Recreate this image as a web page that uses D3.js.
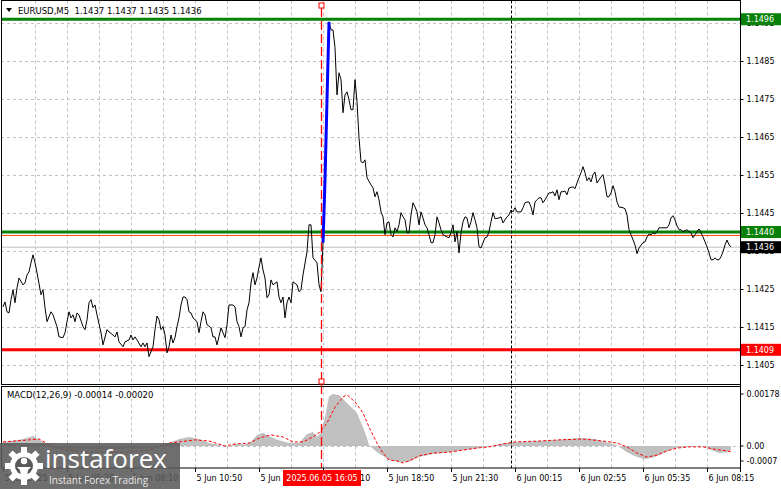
<!DOCTYPE html>
<html><head><meta charset="utf-8">
<script src="https://cdn.jsdelivr.net/npm/d3@7"></script>
<style>html,body{margin:0;padding:0;background:#fff;}svg{display:block;}</style>
</head><body>
<svg id="c" width="781" height="489"></svg>
<script>
// ---------- data ----------
const symbolTitle = "EURUSD,M5  1.1437 1.1437 1.1435 1.1436";
const macdTitle = "MACD(12,26,9) -0.00014 -0.00020";
const priceTicks = [1.1405,1.1415,1.1425,1.1435,1.1445,1.1455,1.1465,1.1475,1.1485,1.1495];
const macdTicks = [0.00178, 0, -0.0007];
const macdTickLabels = ["0.00178","0.00","-0.0007"];
const timeBars = [0,32,64,96,128,160,192,224,256,288,320,352];
const timeLabels = ["5 Jun 2025","5 Jun 05:30","5 Jun 08:10","5 Jun 10:50","5 Jun 13:30","5 Jun 16:10","5 Jun 18:50","5 Jun 21:30","6 Jun 00:15","6 Jun 02:55","6 Jun 05:35","6 Jun 08:15"];
const gridBars = [16,32,48,64,80,96,112,128,144,160,176,192,208,224,240,256,272,288,304,320,336,352];
const cursorBar = 159, cursorLabel = "2025.06.05 16:05";
const daySeparatorBar = 254;
const levelPrices = [1.1496, 1.1440, 1.1409];
const levelLabels = ["1.1496","1.1440","1.1409"];
const extraLinePrice = 1.14391;
const bidPrice = 1.1436, bidLabel = "1.1436";
const highlightBars = [160, 163];

// [bar, close]
const pricePoints = [[0,1.14203],[1,1.14216],[2,1.14190],[3,1.14187],[4,1.14222],[5,1.14248],[6,1.14214],[7,1.14253],[8,1.14279],[10,1.14261],[11,1.14266],[12,1.14287],[13,1.14295],[14,1.14319],[15,1.14340],[16,1.14319],[17,1.14293],[19,1.14235],[20,1.14248],[21,1.14201],[22,1.14164],[24,1.14190],[25,1.14182],[27,1.14151],[28,1.14124],[30,1.14122],[31,1.14135],[32,1.14164],[33,1.14190],[34,1.14174],[35,1.14182],[36,1.14164],[37,1.14187],[38,1.14182],[40,1.14151],[41,1.14143],[42,1.14169],[43,1.14214],[44,1.14222],[45,1.14201],[46,1.14208],[47,1.14182],[49,1.14135],[50,1.14103],[52,1.14143],[53,1.14137],[55,1.14129],[56,1.14124],[57,1.14137],[58,1.14111],[60,1.14098],[61,1.14111],[63,1.14116],[64,1.14129],[65,1.14116],[66,1.14124],[67,1.14116],[69,1.14098],[70,1.14108],[71,1.14098],[72,1.14108],[73,1.14072],[75,1.14098],[76,1.14143],[77,1.14179],[78,1.14169],[79,1.14143],[80,1.14151],[81,1.14129],[82,1.14082],[83,1.14098],[84,1.14129],[85,1.14108],[86,1.14122],[87,1.14151],[88,1.14174],[89,1.14208],[90,1.14229],[91,1.14229],[92,1.14222],[93,1.14190],[94,1.14187],[95,1.14174],[97,1.14164],[98,1.14135],[99,1.14164],[100,1.14190],[101,1.14182],[102,1.14156],[104,1.14148],[105,1.14124],[106,1.14124],[107,1.14103],[109,1.14148],[110,1.14135],[111,1.14122],[112,1.14156],[113,1.14208],[115,1.14208],[116,1.14203],[117,1.14164],[118,1.14151],[119,1.14124],[120,1.14148],[121,1.14151],[122,1.14195],[123,1.14214],[124,1.14266],[125,1.14293],[126,1.14261],[127,1.14279],[128,1.14308],[129,1.14332],[130,1.14300],[131,1.14279],[132,1.14227],[133,1.14235],[134,1.14274],[135,1.14261],[137,1.14269],[138,1.14229],[139,1.14214],[140,1.14229],[141,1.14174],[142,1.14214],[143,1.14229],[144,1.14214],[145,1.14269],[147,1.14261],[148,1.14243],[149,1.14248],[150,1.14287],[152,1.14348],[153,1.14419],[154,1.14419],[155,1.14332],[157,1.14319],[158,1.14261],[159,1.14243],[160,1.14372],[161,1.14537],[162,1.14748],[163,1.14953],
[164,1.14932],[165,1.14932],[166,1.14885],[167,1.14761],[168,1.14819],[169,1.14801],[170,1.14714],[171,1.14761],[172,1.14769],[173,1.14748],[174,1.14722],[175,1.14722],[176,1.14801],[177,1.14743],[178,1.14648],[179,1.14585],[180,1.14582],[181,1.14590],[182,1.14543],[184,1.14524],[185,1.14516],[186,1.14493],[187,1.14506],[188,1.14485],[189,1.14453],[190,1.14440],[191,1.14393],[192,1.14424],[193,1.14427],[194,1.14393],[195,1.14387],[196,1.14411],[197,1.14401],[198,1.14419],[199,1.14451],[200,1.14440],[201,1.14432],[202,1.14398],[203,1.14398],[204,1.14445],[205,1.14477],[206,1.14466],[207,1.14453],[208,1.14419],[209,1.14453],[210,1.14437],[211,1.14419],[212,1.14411],[213,1.14393],[214,1.14372],[215,1.14372],[216,1.14393],[217,1.14440],[218,1.14424],[219,1.14406],[220,1.14393],[222,1.14387],[223,1.14385],[224,1.14398],[225,1.14419],[226,1.14374],[227,1.14401],[228,1.14345],[229,1.14398],[230,1.14427],[231,1.14440],[232,1.14437],[233,1.14411],[234,1.14427],[235,1.14451],[236,1.14432],[237,1.14411],[238,1.14361],[239,1.14358],[240,1.14372],[241,1.14385],[242,1.14387],[243,1.14401],[244,1.14427],[245,1.14451],[246,1.14435],[248,1.14437],[249,1.14440],[250,1.14424],[252,1.14440],[253,1.14445],[254,1.14458],[255,1.14453],[256,1.14464],[257,1.14453],[259,1.14453],[260,1.14464],[261,1.14477],[262,1.14479],[263,1.14479],[264,1.14466],[265,1.14445],[266,1.14479],[267,1.14485],[268,1.14490],[269,1.14490],[270,1.14477],[271,1.14485],[273,1.14503],[274,1.14503],[275,1.14506],[276,1.14495],[277,1.14511],[278,1.14485],[279,1.14506],[280,1.14506],[281,1.14508],[282,1.14498],[283,1.14516],[285,1.14519],[286,1.14514],[287,1.14529],[288,1.14543],[289,1.14556],[290,1.14572],[291,1.14556],[292,1.14535],[293,1.14543],[294,1.14532],[295,1.14551],[296,1.14558],[297,1.14529],[298,1.14537],[299,1.14545],[300,1.14551],[301,1.14524],[302,1.14493],[303,1.14493],[304,1.14503],[305,1.14522],[306,1.14506],[307,1.14479],[308,1.14466],[310,1.14464],[311,1.14461],[312,1.14445],[313,1.14406],[314,1.14393],[316,1.14366],[317,1.14343],[318,1.14358],[320,1.14372],[321,1.14374],[322,1.14387],[323,1.14395],[324,1.14393],[325,1.14398],[326,1.14395],[327,1.14401],[328,1.14411],[329,1.14411],[330,1.14411],[332,1.14411],[333,1.14419],[334,1.14437],[335,1.14443],[336,1.14432],[337,1.14416],[338,1.14406],[339,1.14406],[340,1.14401],[341,1.14403],[342,1.14406],[343,1.14401],[344,1.14398],[345,1.14385],[346,1.14393],[347,1.14401],[348,1.14408],[349,1.14398],[350,1.14387],[351,1.14374],[352,1.14361],[353,1.14345],[354,1.14327],[355,1.14327],[356,1.14332],[357,1.14327],[358,1.14327],[359,1.14335],[360,1.14348],[361,1.14366],[362,1.14379],[363,1.14366],[364,1.14361]];

// [bar, value]
const macdHist = [[0,0.00014],[4,0.00017],[10,0.00024],[15,0.00034],[20,0.00014],[26,-0.00005],[33,-0.00012],[43,-0.00010],[53,-0.00014],[63,-0.00008],[73,-0.00010],[81,0.00005],[88,0.00024],[93,0.00031],[98,0.00024],[103,0.00010],[109,0.00003],[112,-0.00003],[116,0.00007],[121,0.00005],[124,0.00014],[127,0.00038],[130,0.00045],[133,0.00034],[137,0.00021],[143,0.00010],[148,0.00010],[152,0.00040],[155,0.00048],[157,0.00031],[159,0.00045],[161,0.00099],[163,0.00170],[165,0.00178],[168,0.00175],[173,0.00140],[177,0.00113],[180,0.00065],[182,0.00027],[183,0.00003],[187,-0.00021],[190,-0.00034],[193,-0.00048],[198,-0.00055],[203,-0.00055],[208,-0.00038],[215,-0.00027],[223,-0.00021],[231,-0.00014],[238,-0.00007],[246,0.00003],[251,0.00010],[258,0.00014],[268,0.00017],[278,0.00021],[288,0.00027],[296,0.00024],[301,0.00014],[307,0.00003],[312,-0.00021],[317,-0.00038],[321,-0.00045],[326,-0.00038],[331,-0.00021],[336,-0.00007],[341,-0.00003],[348,0.00000],[352,-0.00003],[354,-0.00014],[358,-0.00024],[362,-0.00021],[364,-0.00014]];
const macdSignal = [[0,0.00014],[6,0.00017],[13,0.00021],[18,0.00024],[25,-0.00003],[32,-0.00014],[43,-0.00021],[63,-0.00021],[73,-0.00014],[83,0.00010],[88,0.00014],[96,0.00021],[103,0.00017],[111,0.00000],[116,0.00007],[123,0.00010],[128,0.00027],[134,0.00038],[140,0.00031],[145,0.00014],[150,0.00014],[155,0.00031],[158,0.00045],[162,0.00079],[166,0.00133],[170,0.00168],[172,0.00175],[176,0.00151],[180,0.00113],[183,0.00065],[187,0.00010],[190,-0.00024],[193,-0.00048],[197,-0.00051],[200,-0.00058],[203,-0.00051],[208,-0.00034],[215,-0.00024],[223,-0.00021],[230,-0.00014],[237,-0.00007],[243,-0.00003],[250,0.00007],[256,0.00014],[268,0.00017],[278,0.00021],[290,0.00024],[300,0.00017],[307,0.00010],[312,-0.00003],[317,-0.00024],[322,-0.00038],[327,-0.00031],[332,-0.00017],[337,-0.00007],[343,-0.00003],[350,-0.00003],[355,-0.00010],[362,-0.00017],[364,-0.00020]];

// ---------- layout ----------
const FONT = "DejaVu Sans";
const L = 1, R = 740.5, mainTop = 0.5, mainBot = 384.5, macdTop = 386.5, macdBot = 468;
const svg = d3.select("#c");
svg.append("rect").attr("width",781).attr("height",489).attr("fill","#fff");

const x = d3.scaleLinear().domain([0, 368.5]).range([3, 740]);
const y = d3.scaleLinear().domain([1.1400, 1.15008]).range([384, 1]);
const my = d3.scaleLinear().domain([-0.000753, 0.00202]).range([468, 387]);

const defs = svg.append("defs");
defs.append("clipPath").attr("id","cm").append("rect").attr("x",L).attr("y",mainTop).attr("width",R-L).attr("height",mainBot-mainTop);
defs.append("clipPath").attr("id","cd").append("rect").attr("x",L).attr("y",macdTop).attr("width",R-L).attr("height",macdBot-macdTop);

const gridColor = "#c0c0c0";
// grid main
const gMain = svg.append("g").attr("clip-path","url(#cm)");
gMain.selectAll("line.hg").data(priceTicks).join("line")
  .attr("x1",L).attr("x2",R).attr("y1",d=>Math.round(y(d))+0.5).attr("y2",d=>Math.round(y(d))+0.5)
  .attr("stroke",gridColor).attr("stroke-dasharray","3,3");
gMain.selectAll("line.vg").data(gridBars).join("line")
  .attr("x1",d=>Math.round(x(d))+0.5).attr("x2",d=>Math.round(x(d))+0.5).attr("y1",mainTop).attr("y2",mainBot)
  .attr("stroke",gridColor).attr("stroke-dasharray","3,3");
// grid macd
const gMacd = svg.append("g").attr("clip-path","url(#cd)");
gMacd.selectAll("line.vg").data(gridBars).join("line")
  .attr("x1",d=>Math.round(x(d))+0.5).attr("x2",d=>Math.round(x(d))+0.5).attr("y1",macdTop).attr("y2",macdBot)
  .attr("stroke",gridColor).attr("stroke-dasharray","3,3");
gMacd.append("line").attr("x1",L).attr("x2",R).attr("y1",Math.round(my(0))+0.5).attr("y2",Math.round(my(0))+0.5)
  .attr("stroke",gridColor).attr("stroke-dasharray","3,3");

// level lines
const levelColors = ["#078107","#078107","#ff0000"];
gMain.append("line").attr("x1",L).attr("x2",R).attr("y1",y(bidPrice)).attr("y2",y(bidPrice)).attr("stroke","#c0c0c0").attr("stroke-width",1);
gMain.append("line").attr("x1",L).attr("x2",R).attr("y1",y(extraLinePrice)).attr("y2",y(extraLinePrice)).attr("stroke","#ff4500").attr("stroke-width",1);
gMain.selectAll("line.lvl").data(levelPrices).join("line")
  .attr("x1",L).attr("x2",R).attr("y1",d=>y(d)).attr("y2",d=>y(d))
  .attr("stroke",(d,i)=>levelColors[i]).attr("stroke-width",3);

// price line
const line = d3.line().x(d=>x(d[0])).y(d=>y(d[1]));
gMain.append("path").datum(pricePoints).attr("d",line).attr("fill","none").attr("stroke","#000").attr("stroke-width",1);
gMain.append("path").datum(pricePoints.filter(d=>d[0]>=highlightBars[0]&&d[0]<=highlightBars[1]))
  .attr("d",line).attr("fill","none").attr("stroke","#0000ff").attr("stroke-width",3);

// macd
const area = d3.area().x(d=>x(d[0])).y0(my(0)).y1(d=>my(d[1]));
gMacd.append("path").datum(macdHist).attr("d",area).attr("fill","#c0c0c0");
const sline = d3.line().x(d=>x(d[0])).y(d=>my(d[1]));
gMacd.append("path").datum(macdSignal).attr("d",sline).attr("fill","none").attr("stroke","#ff0000").attr("stroke-width",1).attr("stroke-dasharray","3,2");

// separators
const sx = Math.round(x(daySeparatorBar))+0.5;
svg.append("line").attr("x1",sx).attr("x2",sx).attr("y1",mainTop).attr("y2",macdBot).attr("stroke","#000").attr("stroke-dasharray","3,2");
const cx = Math.round(x(cursorBar))+0.5;
svg.append("line").attr("x1",cx).attr("x2",cx).attr("y1",8).attr("y2",macdBot).attr("stroke","#ff0000").attr("stroke-width",1.3).attr("stroke-dasharray","9,4");

// frames
svg.append("rect").attr("x",L+0.5).attr("y",mainTop).attr("width",R-L-0.5).attr("height",mainBot-mainTop).attr("fill","none").attr("stroke","#000");
svg.append("rect").attr("x",L+0.5).attr("y",macdTop).attr("width",R-L-0.5).attr("height",macdBot-macdTop).attr("fill","none").attr("stroke","#000");
svg.append("line").attr("x1",R).attr("x2",R).attr("y1",0).attr("y2",472).attr("stroke","#000");

// cursor squares
[3, 379].forEach(t=>svg.append("rect").attr("x",cx-2.5).attr("y",t).attr("width",5).attr("height",5).attr("fill","#fff").attr("stroke","#ff0000"));

// axes
const ax = svg.append("g").attr("transform",`translate(${R},0)`)
  .call(d3.axisRight(y).tickValues(priceTicks).tickFormat(d3.format(".4f")).tickSize(3).tickPadding(3));
const mx = svg.append("g").attr("transform",`translate(${R},0)`)
  .call(d3.axisRight(my).tickValues(macdTicks).tickFormat((d,i)=>macdTickLabels[i]).tickSize(3).tickPadding(3));
mx.selectAll(".tick").attr("transform",d=>`translate(0,${Math.min(my(d), macdBot-7)})`);
const bx = svg.append("g").attr("transform",`translate(0,${macdBot})`)
  .call(d3.axisBottom(x).tickValues(timeBars).tickFormat((d,i)=>timeLabels[i]).tickSize(4).tickPadding(3));
[ax,mx,bx].forEach(g=>{
  g.select(".domain").remove();
  g.selectAll("text").attr("font-family",FONT).attr("font-size",8).attr("fill","#000");
  g.selectAll("line").attr("stroke","#000");
});
bx.selectAll("text").attr("text-anchor","start").attr("x",1);

// right-side price boxes
const boxes = [
  {v:levelPrices[0], t:levelLabels[0], bg:"#078107"},
  {v:levelPrices[1], t:levelLabels[1], bg:"#078107"},
  {v:bidPrice, t:bidLabel, bg:"#000000"},
  {v:levelPrices[2], t:levelLabels[2], bg:"#ff0000"}
];
boxes.forEach(b=>{
  const yy = y(b.v);
  svg.append("rect").attr("x",741).attr("y",yy-6).attr("width",40).attr("height",12).attr("fill",b.bg);
  svg.append("text").attr("x",746).attr("y",yy+3).attr("font-family",FONT).attr("font-size",8).attr("fill","#fff").text(b.t);
});

// cursor time box
svg.append("rect").attr("x",283).attr("y",470).attr("width",78).attr("height",16).attr("fill","#ff0000");
svg.append("text").attr("x",322).attr("y",481).attr("text-anchor","middle").attr("font-family",FONT).attr("font-size",8).attr("fill","#fff").text(cursorLabel);

// titles
svg.append("path").attr("d","M6,8 L12,8 L9,12 Z").attr("fill","#000");
svg.append("text").attr("x",18).attr("y",14).attr("font-family",FONT).attr("font-size",8.5).attr("fill","#000").attr("xml:space","preserve").style("white-space","pre").text(symbolTitle);
svg.append("text").attr("x",7).attr("y",398).attr("font-family",FONT).attr("font-size",8.5).attr("fill","#000").text(macdTitle);

// watermark logo
const lg = svg.append("g");
lg.append("rect").attr("x",0).attr("y",443).attr("width",180).attr("height",46).attr("fill","#5a5a5a").attr("opacity",0.88);
const gc = [24,466];
for (let k=0;k<8;k++){
  lg.append("rect").attr("x",gc[0]-3).attr("y",gc[1]-19).attr("width",6).attr("height",8).attr("fill","#fff")
    .attr("transform",`rotate(${k*45},${gc[0]},${gc[1]})`);
}
lg.append("circle").attr("cx",gc[0]).attr("cy",gc[1]).attr("r",14).attr("fill","#fff");
lg.append("circle").attr("cx",gc[0]).attr("cy",gc[1]).attr("r",9).attr("fill","#5a5a5a");
lg.append("circle").attr("cx",gc[0]).attr("cy",gc[1]-5).attr("r",3.2).attr("fill","#fff");
lg.append("path").attr("d",`M${gc[0]-7},${gc[1]+1} L${gc[0]+7},${gc[1]+1} L${gc[0]+4},${gc[1]+4} L${gc[0]+3},${gc[1]+12} L${gc[0]-3},${gc[1]+12} L${gc[0]-4},${gc[1]+4} Z`).attr("fill","#fff");
lg.append("text").attr("x",45).attr("y",468).attr("font-family","Open Sans").attr("font-size",26).attr("fill","#fff").text("instaforex");
lg.append("text").attr("x",49).attr("y",484).attr("font-family","Open Sans").attr("font-size",10).attr("fill","#e8e8e8").text("Instant Forex Trading");
</script>
</body></html>
